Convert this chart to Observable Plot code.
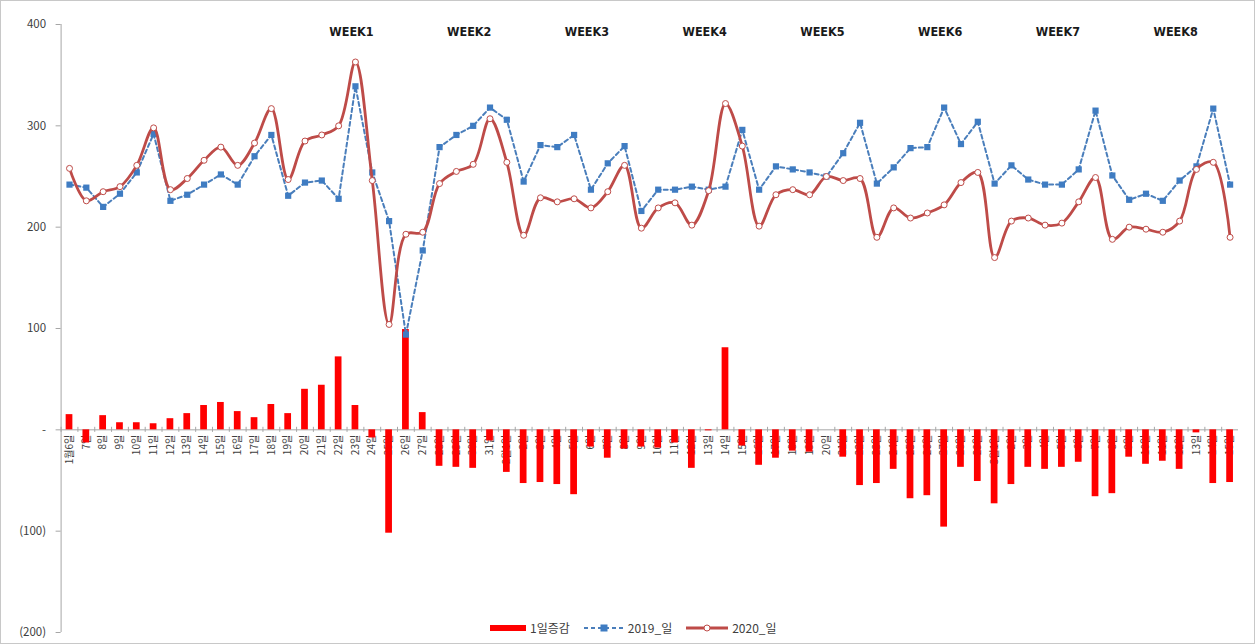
<!DOCTYPE html>
<html><head><meta charset="utf-8">
<script src="https://cdn.jsdelivr.net/npm/d3@7"></script>
<script src="https://cdn.jsdelivr.net/npm/@observablehq/plot@0.6"></script>
<style>
body{margin:0;background:#fff;}
#wrap{position:relative;width:1255px;height:644px;overflow:hidden;font-family:"Noto Sans CJK KR","Noto Sans",sans-serif;background:#fff;}
#wrap svg{position:absolute;left:0;top:0;}
#frame{position:absolute;left:0;top:0;width:1255px;height:644px;box-sizing:border-box;border:1px solid #c8c8c8;pointer-events:none;}
#legend{position:absolute;top:619px;left:490px;display:flex;align-items:center;font-size:12px;color:#404040;white-space:nowrap;}
#legend .it{display:flex;align-items:center;margin-right:14px;}
#legend svg{position:static;margin-right:4px;}
</style>
</head><body>
<div id="wrap"><div id="legend"></div><div id="frame"></div></div>
<script>
// x categories (dates)
const days = ["1월6일","7일","8일","9일","10일","11일","12일","13일","14일","15일","16일","17일","18일","19일","20일","21일","22일","23일","24일","25일","26일","27일","28일","29일","30일","31일",
"2월1일","2일","3일","4일","5일","6일","7일","8일","9일","10일","11일","12일","13일","14일","15일","16일","17일","18일","19일","20일","21일","22일","23일","24일","25일","26일","27일","28일","29일",
"3월1일","2일","3일","4일","5일","6일","7일","8일","9일","10일","11일","12일","13일","14일","15일"];
// 2019 daily values
const y2019 = [242,239,220,233,254,292,226,232,242,252,242,270,291,231,244,246,228,339,254,206,94,177,279,291,300,318,
306,245,281,279,291,237,263,280,216,237,237,240,237,240,296,237,260,257,254,250,273,303,243,259,278,279,318,282,304,
243,261,247,242,242,257,315,251,227,233,226,246,260,317,242];
// 2020 daily values
const y2020 = [258,226,235,240,261,298,237,248,266,279,261,283,317,247,285,291,300,363,246,104,193,195,243,255,262,307,
264,192,229,225,228,219,235,261,199,219,224,202,236,322,280,201,232,237,232,250,246,248,190,219,209,214,222,244,254,
170,206,209,202,204,225,249,188,200,198,195,206,257,264,190];
// daily change (1일증감)
const inc = [15,-13,14,7,7,6,11,16,24,27,18,12,25,16,40,44,72,24,-8,-102,99,17,-36,-37,-38,-11,
-42,-53,-52,-54,-64,-17,-28,-19,-17,-18,-13,-38,-1,81,-16,-35,-28,-21,-22,0,-27,-55,-53,-39,-68,-65,-96,-37,-51,
-73,-54,-37,-39,-37,-32,-66,-63,-27,-34,-31,-39,-3,-53,-52];
// week labels and the day index each is centred on
const weekNames = ["WEEK1","WEEK2","WEEK3","WEEK4","WEEK5","WEEK6","WEEK7","WEEK8"];
const weekDay = [17,24,31,38,45,52,59,66];
const yTicks = [-200,-100,0,100,200,300,400];

const W = 1255, H = 644, ml = 60.6, mr = 17, mt = 24, mb = 12;
const n = days.length;
const step = (W - ml - mr) / n;
const idx = d3.range(n);
const fmt = d => d === 0 ? "-" : d < 0 ? `(${-d})` : String(d);
const BLUE = "#4a7ebb", BLUE_M = "#3f7cc2", RED = "#be4b48";

const chart = Plot.plot({
  width: W, height: H,
  marginLeft: ml, marginRight: mr, marginTop: mt, marginBottom: mb,
  style: {fontFamily: '"Noto Sans CJK KR","Noto Sans",sans-serif', fontSize: "11px", color: "#404040", background: "transparent"},
  x: {type: "band", domain: idx, paddingInner: 0.6, paddingOuter: 0.3, axis: null},
  y: {domain: [-200, 400], axis: null},
  marks: [
    Plot.axisY(yTicks, {tickFormat: fmt, tickSize: 5, tickPadding: 10, stroke: "#a6a6a6", fill: "#404040", fontSize: 11.5}),
    Plot.ruleX([0], {x: d => d, dx: -step / 2, stroke: "#a6a6a6"}),
    Plot.ruleY([0], {stroke: "#a6a6a6"}),
    Plot.ruleX(idx, {x: d => d, dx: -step / 2, y1: -2.5, y2: 2.5, stroke: "#a6a6a6"}),
    Plot.text(idx, {x: d => d, y: 0, text: i => days[i], rotate: -90, textAnchor: "end", dy: 5, fontSize: 10, fill: "#404040"}),
    Plot.barY(idx, {x: d => d, y: i => inc[i], fill: "#ff0000"}),
    Plot.line(idx, {x: d => d, y: i => y2019[i], stroke: BLUE, strokeWidth: 2, strokeDasharray: "4,3"}),
    Plot.dot(idx, {x: d => d, y: i => y2019[i], symbol: "square", r: 3.5, fill: BLUE_M}),
    Plot.line(idx, {x: d => d, y: i => y2020[i], stroke: RED, strokeWidth: 2.8, curve: "catmull-rom"}),
    Plot.dot(idx, {x: d => d, y: i => y2020[i], r: 3, fill: "white", stroke: RED, strokeWidth: 1}),
    Plot.text(weekNames, {x: (d, i) => weekDay[i], text: d => d, frameAnchor: "top", dy: 3, dx: -4,
      fontSize: 12.5, fontWeight: 600, fill: "#1a1a1a",
      fontFamily: '"Liberation Sans Narrow","DejaVu Sans Condensed","Roboto",sans-serif'})
  ]
});
const wrap = document.getElementById("wrap");
wrap.insertBefore(chart, wrap.firstChild);

// legend
const lg = document.getElementById("legend");
const items = [
  {label: "1일증감", sw: `<svg width="36" height="10"><line x1="0" x2="36" y1="5" y2="5" stroke="#ff0000" stroke-width="6"/></svg>`},
  {label: "2019_일", sw: `<svg width="40" height="10"><line x1="0" x2="40" y1="5" y2="5" stroke="${BLUE}" stroke-width="2" stroke-dasharray="4,3"/><rect x="16.5" y="1.5" width="7" height="7" fill="${BLUE_M}"/></svg>`},
  {label: "2020_일", sw: `<svg width="42" height="10"><line x1="0" x2="42" y1="5" y2="5" stroke="${RED}" stroke-width="2.8"/><circle cx="21" cy="5" r="3" fill="white" stroke="${RED}"/></svg>`}
];
lg.innerHTML = items.map(d => `<div class="it">${d.sw}<span>${d.label}</span></div>`).join("");
</script>
</body></html>
